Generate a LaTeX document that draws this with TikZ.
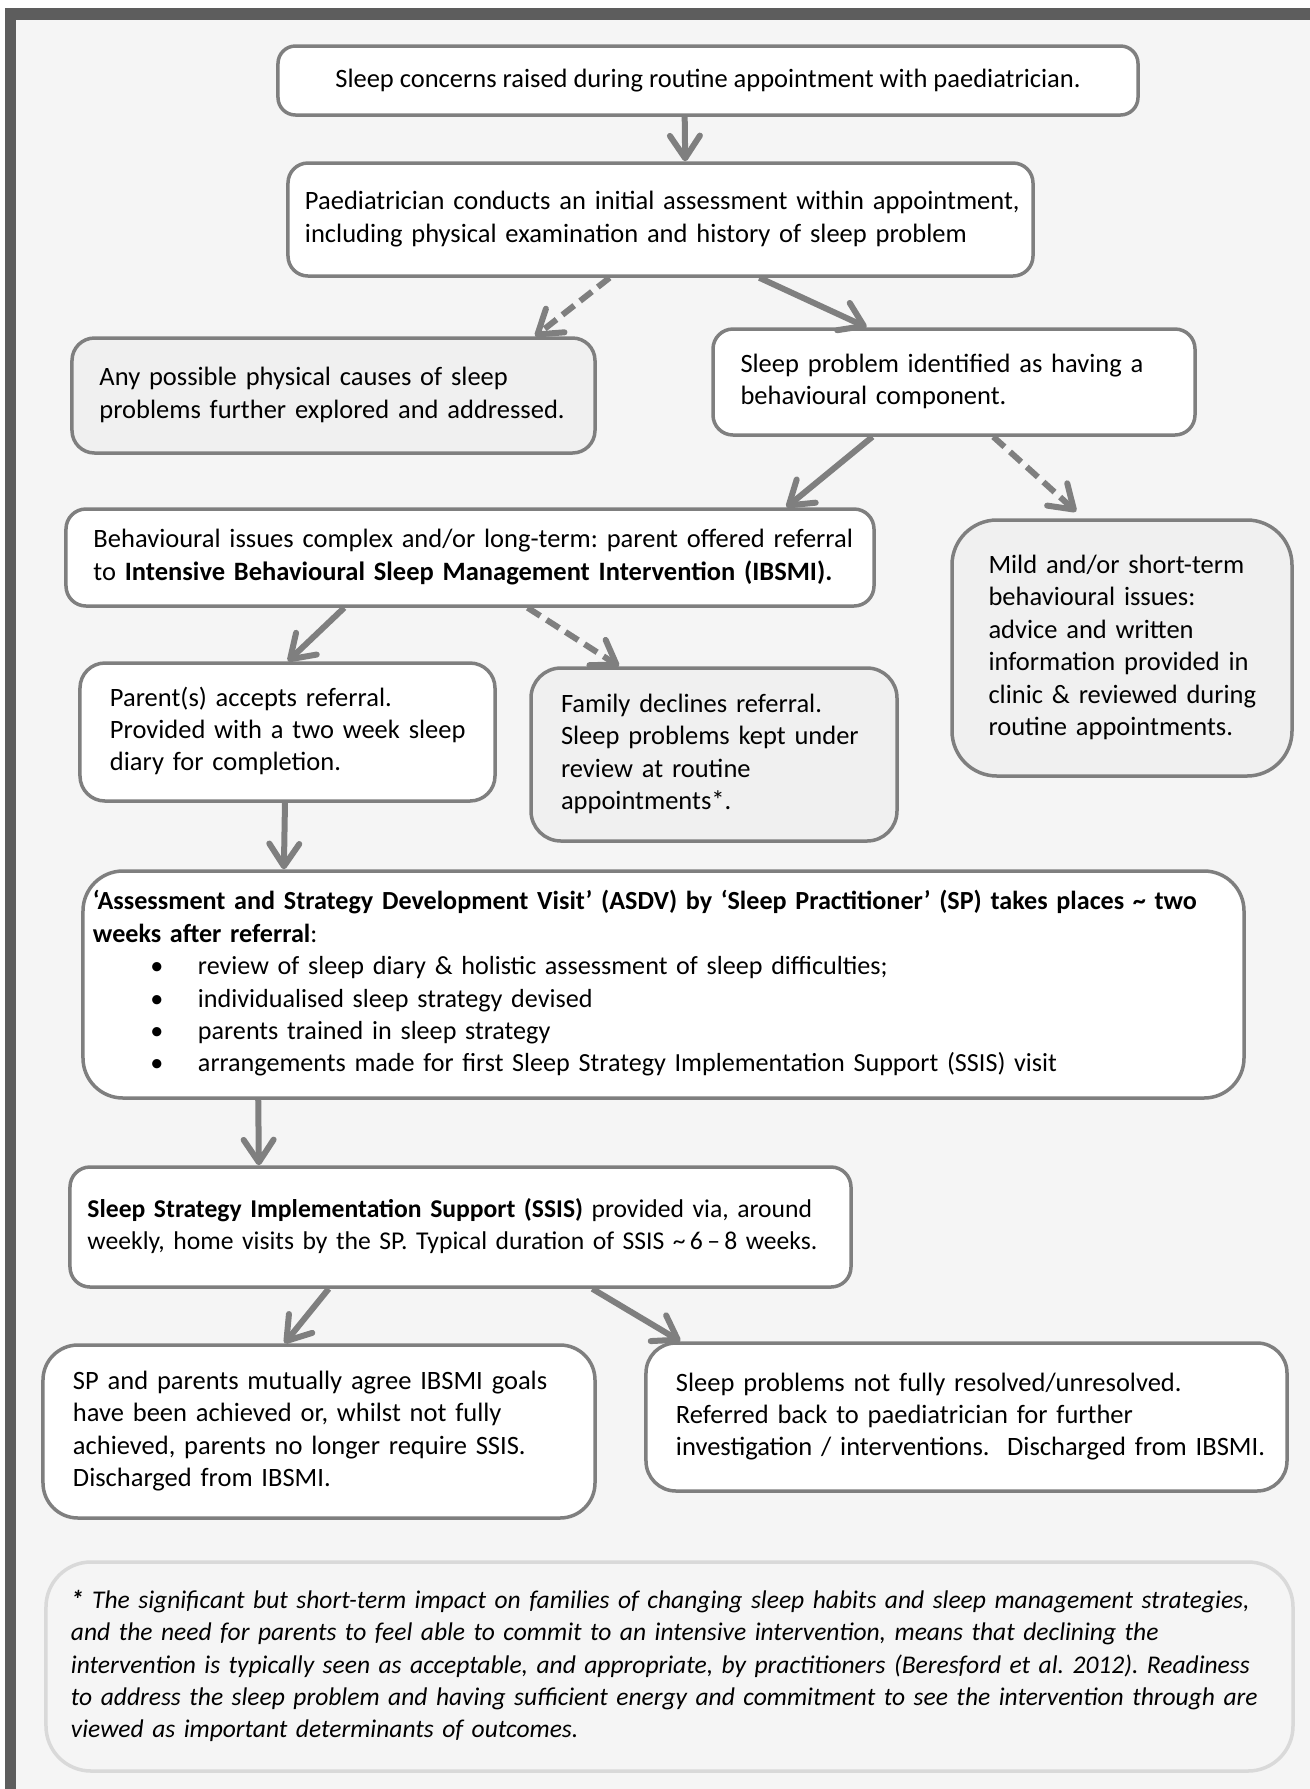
\documentclass[tikz,border=0pt]{standalone}
\usepackage{fontspec}
\setmainfont{Carlito}
\usepackage{tikz}
\usetikzlibrary{arrows.meta, calc}

\definecolor{linegrey}{RGB}{127,127,127}
\definecolor{framegrey}{RGB}{93,93,93}
\definecolor{pagegrey}{RGB}{245,245,245}
\definecolor{boxgrey}{RGB}{240,240,240}
\definecolor{notegrey}{RGB}{217,217,217}

\frenchspacing
\newcommand{\boxlines}[1]{\begin{tabular}{@{}l@{}}#1\end{tabular}}
\newcommand{\asdvpoint}[1]{\hspace*{23pt}\makebox[19pt][l]{\textbullet}#1}

\begin{document}
\begin{tikzpicture}[x=0.4pt, y=-0.4pt, font=\fontsize{10.6pt}{12.96pt}\selectfont]
        % Define node styles
        \tikzstyle{stage} = [draw=linegrey, line width=1.4pt, rounded corners=8pt, fill=white, rectangle, align=left, inner ysep=0pt]
        \tikzstyle{side} = [stage, fill=boxgrey]
        \tikzstyle{flow} = [draw=linegrey, line width=2.4pt, -{Straight Barb[length=9pt, width=12pt, round]}]
        \tikzstyle{maybe} = [flow, dash pattern=on 6pt off 3pt]

        % Page and frame
        \useasboundingbox (0,0) rectangle (1310,1789);
        \fill[white] (0,0) rectangle (1310,1789);
        \fill[pagegrey] (5,8) rectangle (1310,1789);
        \fill[framegrey] (5,8) rectangle (1310,20);
        \fill[framegrey] (5,8) rectangle (16,1789);

        % Draw the nodes
        \node[stage, align=center, minimum width=344pt, minimum height=27.6pt, rounded corners=7pt] (concern) at (708,80.5)
            {Sleep concerns raised during routine appointment with paediatrician.};
        \node[stage, text width=284.4pt, inner xsep=6.8pt, minimum height=45.2pt] (assess) at (660.5,219.5)
            {\boxlines{Paediatrician conducts an initial assessment within appointment,\\ including physical examination and history of sleep problem}};
        \node[side, text width=187.2pt, inner xsep=11pt, minimum height=46pt, rounded corners=9pt] (physical) at (333.5,395.5)
            {\boxlines{Any possible physical causes of sleep\\ problems further explored and addressed.}};
        \node[stage, text width=170.8pt, inner xsep=11pt, minimum height=42.4pt] (behav) at (954,382)
            {\boxlines{Sleep problem identified as having a\\ behavioural component.}};
        \node[stage, text width=301.2pt, inner xsep=11pt, minimum height=38.8pt] (complex) at (470,557.5)
            {\boxlines{Behavioural issues complex and/or long-term: parent offered referral\\ to \textbf{Intensive Behavioural Sleep Management Intervention (IBSMI).}}};
        \node[side, text width=106.8pt, inner xsep=14.6pt, minimum height=102.4pt, rounded corners=18pt] (mild) at (1122,648)
            {\boxlines{Mild and/or short-term\\ behavioural issues:\\ advice and written\\ information provided in\\ clinic \& reviewed during\\ routine appointments.}};
        \node[stage, text width=142pt, inner xsep=12pt, minimum height=55.2pt, rounded corners=10pt] (accept) at (287.5,732)
            {\boxlines{Parent(s) accepts referral.\\ Provided with a two week sleep\\ diary for completion.}};
        \node[side, text width=122.4pt, inner xsep=12pt, minimum height=69.2pt, rounded corners=12pt] (decline) at (714,754.5)
            {\boxlines{Family declines referral.\\ Sleep problems kept under\\ review at routine\\ appointments*.}};
        \node[stage, text width=456.4pt, inner xsep=4pt, minimum height=90.8pt, rounded corners=16pt, font=\fontsize{10.45pt}{12.96pt}\selectfont] (asdv) at (663.5,984.5)
            {\boxlines{\textbf{‘Assessment and Strategy Development Visit’ (ASDV) by ‘Sleep Practitioner’ (SP) takes places \textasciitilde{} two}\\
             \textbf{weeks after referral}:\\
             \asdvpoint{review of sleep diary \& holistic assessment of sleep difficulties;}\\
             \asdvpoint{individualised sleep strategy devised}\\
             \asdvpoint{parents trained in sleep strategy}\\
             \asdvpoint{arrangements made for first Sleep Strategy Implementation Support (SSIS) visit}}};
        \node[stage, text width=298.4pt, inner xsep=7pt, minimum height=48pt, font=\fontsize{10.25pt}{12.96pt}\selectfont] (ssis) at (460.5,1227)
            {\boxlines{\textbf{Sleep Strategy Implementation Support (SSIS)} provided via, around\\ weekly, home visits by the SP. Typical duration of SSIS \textasciitilde{}\,6\,--\,8 weeks.}};
        \node[stage, text width=196.8pt, inner xsep=12pt, minimum height=69.2pt, rounded corners=14pt] (achieved) at (319,1431.5)
            {\boxlines{SP and parents mutually agree IBSMI goals\\ have been achieved or, whilst not fully\\ achieved, parents no longer require SSIS.\\ Discharged from IBSMI.}};
        \node[stage, text width=232.4pt, inner xsep=12pt, minimum height=59.2pt, rounded corners=12pt] (unresolved) at (966.5,1417)
            {\boxlines{Sleep problems not fully resolved/unresolved.\\ Referred back to paediatrician for further\\ investigation / interventions.\ \ Discharged from IBSMI.}};
        \node[stage, draw=notegrey, fill=pagegrey, text width=478.8pt, inner xsep=10pt, minimum height=83.6pt, rounded corners=18pt, font=\fontsize{10.2pt}{12.96pt}\selectfont\itshape] (note) at (669.5,1666.5)
            {\boxlines{\textbf{*} The significant but short-term impact on families of changing sleep habits and sleep management strategies,\\
             and the need for parents to feel able to commit to an intensive intervention, means that declining the\\
             intervention is typically seen as acceptable, and appropriate, by practitioners (Beresford et al. 2012). Readiness\\
             to address the sleep problem and having sufficient energy and commitment to see the intervention through are\\
             viewed as important determinants of outcomes.}};

        % Draw the arrows
        \draw[flow] ($(concern.south west)!0.473!(concern.south east)$) -- ($(assess.north west)!0.533!(assess.north east)$);
        \draw[maybe] ($(assess.south west)!0.432!(assess.south east)$) -- ($(physical.north west)!0.883!(physical.north east)$);
        \draw[flow] ($(assess.south west)!0.632!(assess.south east)$) -- ($(behav.north west)!0.320!(behav.north east)$);
        \draw[flow] ($(behav.south west)!0.332!(behav.south east)$) -- ($(complex.north west)!0.890!(complex.north east)$);
        \draw[maybe, shorten >=4pt] ($(behav.south west)!0.581!(behav.south east)$) -- ($(mild.north west)!0.388!(mild.north east)$);
        \draw[flow] ($(complex.south west)!0.345!(complex.south east)$) -- ($(accept.north west)!0.501!(accept.north east)$);
        \draw[maybe] ($(complex.south west)!0.571!(complex.south east)$) -- ($(decline.north west)!0.243!(decline.north east)$);
        \draw[flow] ($(accept.south west)!0.494!(accept.south east)$) -- ($(asdv.north west)!0.174!(asdv.north east)$);
        \draw[flow] ($(asdv.south west)!0.152!(asdv.south east)$) -- ($(ssis.north west)!0.243!(ssis.north east)$);
        \draw[flow] ($(ssis.south west)!0.332!(ssis.south east)$) -- ($(achieved.north west)!0.438!(achieved.north east)$);
        \draw[flow] ($(ssis.south west)!0.668!(ssis.south east)$) -- ($(unresolved.north west)!0.056!(unresolved.north east)$);
    \end{tikzpicture}
\end{document}
